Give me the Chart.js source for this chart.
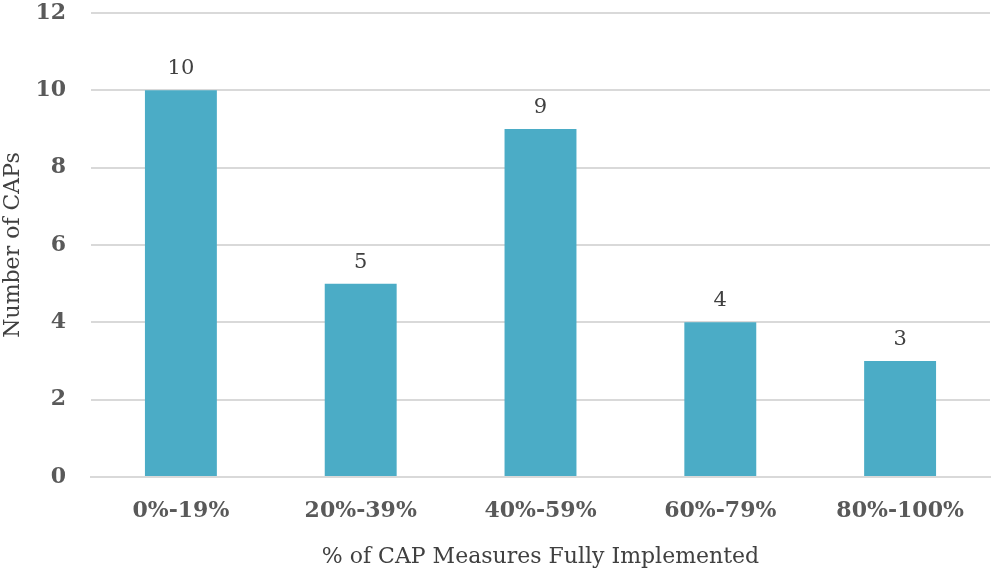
<!DOCTYPE html>
<html>
<head>
<meta charset="utf-8">
<script src="https://cdn.jsdelivr.net/npm/chart.js@4/dist/chart.umd.min.js"></script>
<style>
  html, body { margin: 0; padding: 0; background: #ffffff; }
  #wrap { width: 992px; height: 576px; position: relative; }
</style>
</head>
<body>
<div id="wrap"><canvas id="c" width="992" height="576"></canvas></div>
<script>
const categories = ['0%-19%', '20%-39%', '40%-59%', '60%-79%', '80%-100%'];
const capCounts = [10, 5, 9, 4, 3];
const yTicks = [0, 2, 4, 6, 8, 10, 12];

const SERIF = '"DejaVu Serif", "Liberation Serif", serif';

// Writes each bar's value just above it
const valueLabels = {
  id: 'valueLabels',
  afterDatasetsDraw(chart) {
    const ctx = chart.ctx;
    const meta = chart.getDatasetMeta(0);
    ctx.save();
    ctx.font = '21px ' + SERIF;
    ctx.fillStyle = '#404040';
    ctx.textAlign = 'center';
    ctx.textBaseline = 'alphabetic';
    meta.data.forEach((bar, i) => {
      ctx.fillText(String(capCounts[i]), bar.x, bar.y - 16);
    });
    ctx.restore();
  }
};

new Chart(document.getElementById('c'), {
  type: 'bar',
  data: {
    labels: categories,
    datasets: [{
      data: capCounts,
      backgroundColor: '#4BACC6',
      borderWidth: 0,
      categoryPercentage: 1,
      barPercentage: 0.4
    }]
  },
  options: {
    responsive: false,
    animation: false,
    layout: { padding: { top: 13, right: 2, left: 0, bottom: 0 } },
    plugins: { legend: { display: false }, tooltip: { enabled: false } },
    scales: {
      x: {
        grid: { display: false, drawTicks: false },
        border: { display: true, color: '#d9d9d9', width: 2 },
        ticks: {
          color: '#595959',
          font: { family: SERIF, size: 22, weight: 'bold' },
          padding: 21
        },
        title: {
          display: true,
          text: '% of CAP Measures Fully Implemented',
          color: '#404040',
          font: { family: SERIF, size: 22 },
          padding: { top: 10, bottom: 6 }
        },
        afterFit(scale) {
          scale.height = 99;
          scale.paddingLeft = 0;
          scale.paddingRight = 0;
        }
      },
      y: {
        min: 0,
        max: 12,
        afterBuildTicks(scale) { scale.ticks = yTicks.map(v => ({ value: v })); },
        grid: { color: '#d9d9d9', lineWidth: 2, drawTicks: false },
        border: { display: false },
        ticks: {
          color: '#595959',
          font: { family: SERIF, size: 22, weight: 'bold' },
          padding: 25
        },
        title: {
          display: true,
          text: 'Number of CAPs',
          color: '#404040',
          font: { family: SERIF, size: 22 },
          padding: { top: 0, bottom: 4 }
        },
        afterFit(scale) {
          scale.width = 91;
          scale.paddingTop = 0;
          scale.paddingBottom = 0;
        }
      }
    }
  },
  plugins: [valueLabels]
});
</script>
</body>
</html>
